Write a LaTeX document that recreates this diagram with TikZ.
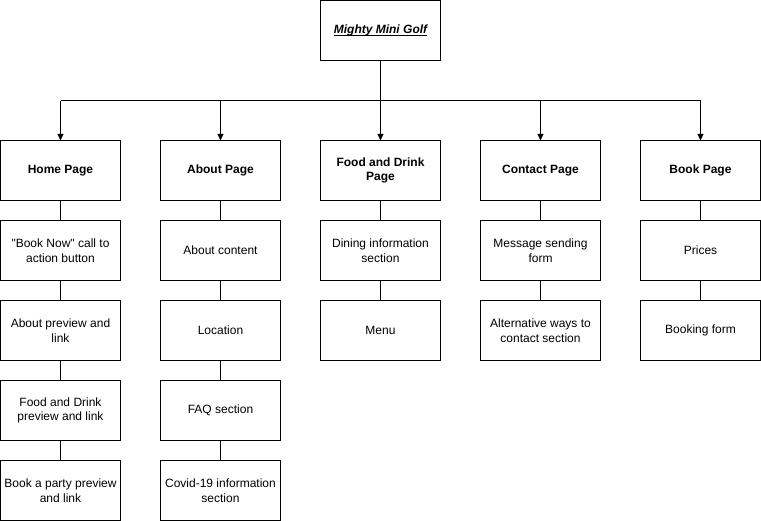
\documentclass[tikz,border=0pt]{standalone}
\usepackage{fontspec}
\setmainfont{Liberation Sans}[Ligatures=TeXOff]
\usetikzlibrary{arrows.meta}
\newcommand\myunder[1]{\setbox0\hbox{#1}\rlap{\rule[-1.3pt]{\wd0}{0.6pt}}\box0}
\begin{document}
\begin{tikzpicture}[x=0.75pt,y=-0.75pt,
  box/.style={draw,line width=0.75pt,minimum width=90pt,minimum height=45pt,inner sep=0pt,outer sep=0pt,align=center,font=\fontsize{9}{11}\selectfont,anchor=north west},
  head/.style={box,font=\fontsize{9}{11}\selectfont\bfseries},
  conn/.style={line width=0.75pt},
  arr/.style={line width=0.75pt,-{Triangle[length=5pt,width=4.5pt]}}]
\useasboundingbox (0,0) rectangle (761,521);
\node[box,font=\fontsize{9}{11}\selectfont\bfseries\itshape] (top) at (320.5,0.5) {\myunder{Mighty Mini Golf}};
% heads
\node[head] (h1) at (0.5,140.5) {Home Page};
\node[head] (h2) at (160.5,140.5) {About Page};
\node[head] (h3) at (320.5,140.5) {Food and Drink\\Page};
\node[head] (h4) at (480.5,140.5) {Contact Page};
\node[head] (h5) at (640.5,140.5) {Book Page};
% column 1
\node[box] (a1) at (0.5,220.5) {"Book Now" call to\\action button};
\node[box] (a2) at (0.5,300.5) {About preview and\\link};
\node[box] (a3) at (0.5,380.5) {Food and Drink\\preview and link};
\node[box] (a4) at (0.5,460.5) {Book a party preview\\and link};
% column 2
\node[box] (b1) at (160.5,220.5) {About content};
\node[box] (b2) at (160.5,300.5) {Location};
\node[box] (b3) at (160.5,380.5) {FAQ section};
\node[box] (b4) at (160.5,460.5) {Covid-19 information\\section};
% column 3
\node[box] (c1) at (320.5,220.5) {Dining information\\section};
\node[box] (c2) at (320.5,300.5) {Menu};
% column 4
\node[box] (d1) at (480.5,220.5) {Message sending\\form};
\node[box] (d2) at (480.5,300.5) {Alternative ways to\\contact section};
% column 5
\node[box] (e1) at (640.5,220.5) {Prices};
\node[box] (e2) at (640.5,300.5) {Booking form};
% connectors
\coordinate (bus) at (380.5,100.5);
\draw[conn] (top.south) -- (bus);
\draw[conn] (h1.north |- bus) -- (h5.north |- bus);
\foreach \h in {h1,h2,h3,h4,h5} \draw[arr] (\h.north |- bus) -- (\h.north);
\draw[conn] (h1) -- (a1); \draw[conn] (a1) -- (a2); \draw[conn] (a2) -- (a3); \draw[conn] (a3) -- (a4);
\draw[conn] (h2) -- (b1); \draw[conn] (b1) -- (b2); \draw[conn] (b2) -- (b3); \draw[conn] (b3) -- (b4);
\draw[conn] (h3) -- (c1); \draw[conn] (c1) -- (c2);
\draw[conn] (h4) -- (d1); \draw[conn] (d1) -- (d2);
\draw[conn] (h5) -- (e1); \draw[conn] (e1) -- (e2);
\end{tikzpicture}
\end{document}
